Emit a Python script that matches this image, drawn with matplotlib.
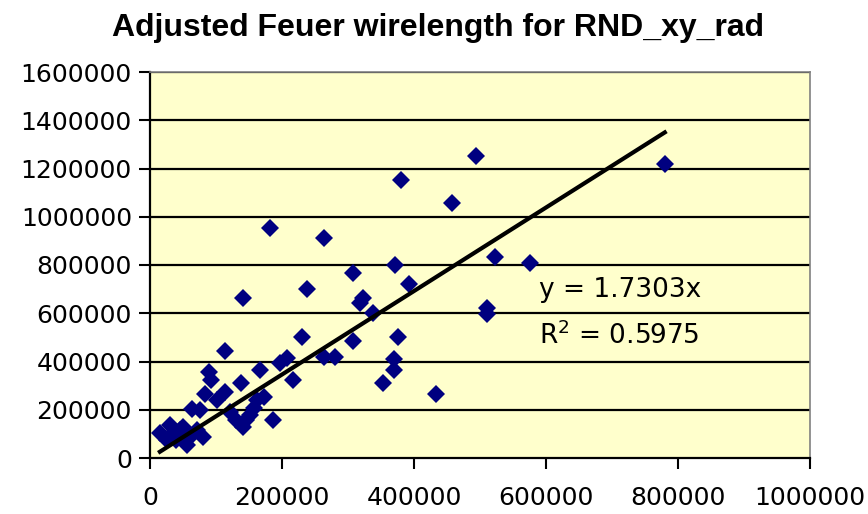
import numpy as np
import matplotlib
matplotlib.use("Agg")
import matplotlib.pyplot as plt

# scatter values
xs = [780000, 494000, 380000, 457000, 182000, 263000, 522000, 575000, 371000, 307000,
      392000, 141000, 238000, 322000, 318000, 338000, 510000, 510000, 376000, 307000,
      231000, 369000, 369000, 353000, 433000, 263000, 280000, 207000, 197000, 217000,
      167000, 138000, 114000, 90000, 93000, 83000, 114000, 101000, 63000, 121000,
      131000, 141000, 157000, 162000, 172000, 152000, 187000, 30000, 15000, 35000,
      50000, 40000, 61000, 71000, 56000, 81000, 25000, 76000, 45000, 145000]
ys = [1219000, 1253000, 1152000, 1056000, 953000, 910000, 832000, 808000, 800000, 765000,
      722000, 665000, 699000, 662000, 641000, 600000, 620000, 595000, 503000, 486000,
      500000, 409000, 365000, 310000, 265000, 420000, 420000, 413000, 395000, 322000,
      365000, 310000, 443000, 355000, 325000, 265000, 275000, 240000, 203000, 192000,
      158000, 130000, 206000, 240000, 254000, 178000, 158000, 137000, 102000, 102000,
      130000, 75000, 88000, 116000, 54000, 88000, 75000, 199000, 115000, 158000]

slope = 1.7303
r2 = 0.5975
title = "Adjusted Feuer wirelength for RND_xy_rad"
xticks = [0, 200000, 400000, 600000, 800000, 1000000]
yticks = list(range(0, 1600001, 200000))

plt.rcParams['font.family'] = ['DejaVu Sans']

fig = plt.figure(figsize=(8.68, 5.14), dpi=100)
ax = fig.add_axes([150 / 868, 1 - 458 / 514, 660 / 868, 386 / 514])
ax.set_facecolor('#FFFFCC')

for y in yticks[1:]:
    ax.axhline(y, color='black', lw=1.6, zorder=1)

ax.plot(xs, ys, linestyle='none', marker='D', ms=9, color='#000080',
        markeredgewidth=0, zorder=3)

# trend line through the origin over the data range
lx = np.array([min(xs), max(xs)])
ax.plot(lx, slope * lx, color='black', lw=3, zorder=4)

ax.text(590000, 696000, "y = %.4fx" % slope, fontsize=19, va='center', ha='left', zorder=5)
ax.text(590000, 506000, "R$^2$ = %.4f" % r2, fontsize=19, va='center', ha='left', zorder=5)

ax.set_xlim(0, 1000000)
ax.set_ylim(0, 1600000)
ax.set_xticks(xticks)
ax.set_yticks(yticks)
ax.set_xticklabels([str(v) for v in xticks])
ax.set_yticklabels([str(v) for v in yticks])
ax.tick_params(axis='both', direction='out', length=8, width=1.5, labelsize=18)
ax.tick_params(axis='x', pad=12)
ax.tick_params(axis='y', pad=5)

for side in ['left', 'bottom']:
    ax.spines[side].set_color('black')
    ax.spines[side].set_linewidth(1.6)
for side in ['top', 'right']:
    ax.spines[side].set_color('#808080')
    ax.spines[side].set_linewidth(1.2)

fig.text(0.505, 0.945, title, ha='center', va='center', fontsize=23,
         fontweight='bold', family='Liberation Sans')

fig.savefig('out.png', dpi=100)
